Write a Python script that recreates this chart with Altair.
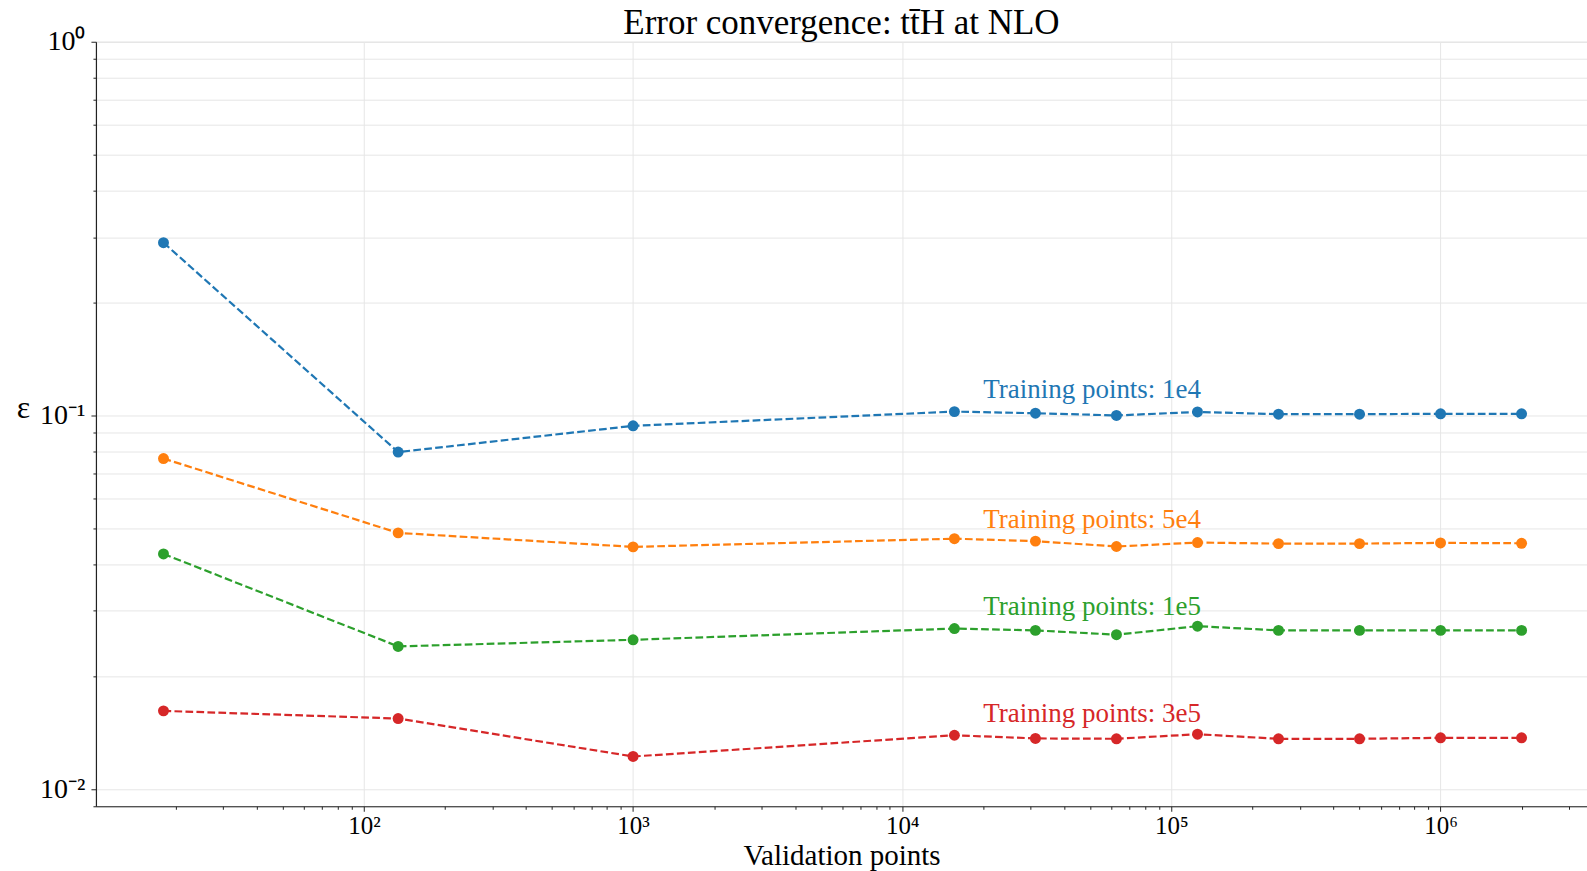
import altair as alt
import pandas as pd

# ---- data ----
val_points = [18, 134, 1000, 15625, 31250, 62500, 125000, 250000, 500000, 1000000, 2000000]
err_1e4 = [0.290, 0.0798, 0.0938, 0.1024, 0.1014, 0.1000, 0.1022, 0.1008, 0.1008, 0.1010, 0.1010]
err_5e4 = [0.0767, 0.0485, 0.0445, 0.0468, 0.0461, 0.0446, 0.0457, 0.0454, 0.0454, 0.0456, 0.0455]
err_1e5 = [0.0426, 0.0241, 0.0251, 0.0269, 0.0266, 0.0259, 0.0273, 0.0266, 0.0266, 0.0266, 0.0266]
err_3e5 = [0.0162, 0.01545, 0.01223, 0.01394, 0.01367, 0.01364, 0.01403, 0.01364, 0.01364, 0.01372, 0.01372]
series_names = ["Training points: 1e4", "Training points: 5e4", "Training points: 1e5", "Training points: 3e5"]
series_colors = ["#1f77b4", "#ff7f0e", "#2ca02c", "#d62728"]
label_x = 20000

FONT = "Liberation Serif"

rows = []
for name, vals in zip(series_names, [err_1e4, err_5e4, err_1e5, err_3e5]):
    for i, (xv, yv) in enumerate(zip(val_points, vals)):
        rows.append({"series": name, "x": xv, "y": yv, "order": i})
df = pd.DataFrame(rows)

lab = pd.DataFrame({
    "series": series_names,
    "x": [label_x] * 4,
    "y": [v[-1] * 1.1 for v in [err_1e4, err_5e4, err_1e5, err_3e5]],
})

x_minor = [m * 10 ** e for e in range(1, 7) for m in range(1, 10)]
x_minor = [v for v in x_minor if 10 <= v <= 3.5e6]
y_minor = [m * 10 ** e for e in (-3, -2, -1) for m in range(1, 10)] + [1]
y_minor = [round(v, 6) for v in y_minor if 0.009 <= v <= 1]

is_major = "abs(log(datum.value)/LN10 - round(log(datum.value)/LN10)) < 1e-6"
sup_expr = ("(" + is_major + ") ? ['10⁻²','10⁻¹','10⁰','10¹','10²','10³','10⁴','10⁵','10⁶']"
            "[round(log(datum.value)/LN10) + 2] : ''")

color_scale = alt.Scale(domain=series_names, range=series_colors)
xs = alt.Scale(type="log", domain=[10.1, 3.5e6], nice=False)
ys = alt.Scale(type="log", domain=[0.009, 1], nice=False)

x_axis = alt.Axis(
    values=x_minor, labelExpr=sup_expr, title="Validation points",
    grid=True, gridColor="#e6e6e6", gridWidth=1,
    gridOpacity={"condition": {"test": is_major, "value": 1}, "value": 0},
    tickSize={"condition": {"test": is_major, "value": 5}, "value": 3},
    tickColor="#222", tickWidth=1, domainColor="#222", domainWidth=1.2,
    labelFont=FONT, labelFontSize=25, labelColor="black", labelPadding=2,
    labelFlush=False, labelOverlap=False,
    titleFont=FONT, titleFontSize=29, titleFontWeight="normal", titleColor="black",
    titleBaseline="alphabetic", titleY=58,
)
y_axis = alt.Axis(
    values=y_minor, labelExpr=sup_expr, title="ε",
    grid=True, gridColor="#e6e6e6", gridWidth=1,
    tickSize={"condition": {"test": is_major, "value": 5}, "value": 3},
    tickColor="#222", tickWidth=1, domainColor="#222", domainWidth=1.2,
    labelFont=FONT, labelFontSize=28, labelColor="black", labelPadding=6,
    labelFlush=False, labelOverlap=False, labelBaseline="middle",
    titleFont=FONT, titleFontSize=32, titleFontWeight="normal", titleColor="black",
    titleAngle=0, titleAlign="center", titleBaseline="middle", titleX=-73, titleY=366,
)

base = alt.Chart(df)
lines = base.mark_line(strokeDash=[7.7, 3.3], strokeWidth=2.2).encode(
    x=alt.X("x:Q", scale=xs, axis=x_axis),
    y=alt.Y("y:Q", scale=ys, axis=y_axis),
    color=alt.Color("series:N", scale=color_scale, legend=None),
    order="order:Q",
)
points = base.mark_circle(size=120, opacity=1).encode(
    x=alt.X("x:Q", scale=xs),
    y=alt.Y("y:Q", scale=ys),
    color=alt.Color("series:N", scale=color_scale, legend=None),
)
labels = alt.Chart(lab).mark_text(
    align="left", baseline="alphabetic", font=FONT, fontSize=27
).encode(
    x=alt.X("x:Q", scale=xs),
    y=alt.Y("y:Q", scale=ys),
    text="series:N",
    color=alt.Color("series:N", scale=color_scale, legend=None),
)

chart = alt.layer(lines, points, labels).properties(
    width=1492, height=765,
    title=alt.TitleParams(
        "Error convergence: tt̄H at NLO", font=FONT, fontSize=35,
        fontWeight="normal", color="black", anchor="middle", offset=4, dy=17,
    ),
    autosize=alt.AutoSizeParams(type="none"),
    padding={"left": 96, "top": 41.5, "right": 0, "bottom": 64},
).configure_view(stroke="#222", strokeWidth=1.2).configure(background="white")

chart.save("out.html", embed_options={"renderer": "svg", "actions": False})
